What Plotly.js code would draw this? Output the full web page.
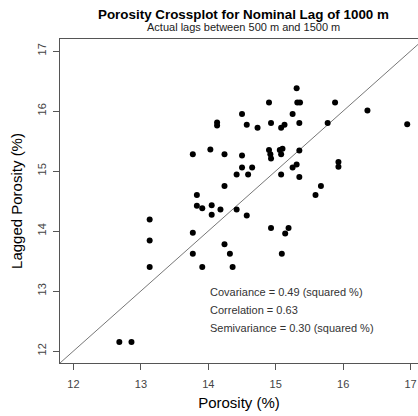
<!DOCTYPE html>
<html>
<head>
<meta charset="utf-8">
<script src="https://cdn.plot.ly/plotly-3.0.1.min.js"></script>
<style>html,body{margin:0;padding:0;background:#fff;}#chart{width:418px;height:416px;}</style>
</head>
<body>
<div id="chart"></div>
<script>
// Porosity (%) at each location (x) and lagged porosity (%) (y)
const porosity = [
  14.13, 14.13, 13.77, 14.03, 14.24, 14.42, 14.24, 15.31, 14.90, 15.32,
  15.36, 15.88, 16.36, 16.95, 14.50, 15.25, 14.57, 14.73, 14.93, 15.08,
  15.13, 15.35, 15.77, 14.50, 14.90, 14.92, 14.93, 15.06, 15.10, 15.08,
  15.35, 14.50, 14.65, 14.59, 15.25, 15.31, 15.08, 15.35, 15.67, 15.59,
  15.93, 15.93, 13.83, 13.83, 13.91, 14.05, 14.05, 14.18, 14.42, 14.57,
  13.13, 13.13, 13.13, 13.77, 13.77, 13.91, 14.24, 14.32, 14.36, 14.93,
  15.14, 15.19, 15.09, 12.68, 12.86
];
const laggedPorosity = [
  15.81, 15.76, 15.28, 15.36, 15.28, 14.94, 14.75, 16.38, 16.14, 16.14,
  16.14, 16.14, 16.01, 15.78, 15.95, 15.95, 15.77, 15.72, 15.80, 15.72,
  15.77, 15.80, 15.80, 15.26, 15.35, 15.28, 15.21, 15.35, 15.37, 15.28,
  15.34, 15.06, 15.06, 14.94, 15.06, 15.11, 14.94, 14.90, 14.75, 14.60,
  15.15, 15.07, 14.60, 14.42, 14.38, 14.43, 14.27, 14.36, 14.36, 14.26,
  14.19, 13.84, 13.40, 13.97, 13.62, 13.40, 13.78, 13.62, 13.40, 14.05,
  13.96, 14.05, 13.62, 12.15, 12.15
];
const diagonal = [11.8, 17.2];
const tickValues = [12, 13, 14, 15, 16, 17];
const statsLabels = [
  "Covariance = 0.49 (squared %)",
  "Correlation = 0.63",
  "Semivariance = 0.30 (squared %)"
];
const statsY = [12.99, 12.68, 12.39];
const statsX = 13.99;

const axisColor = "#555";
const font = "Liberation Sans, Arial, Helvetica, sans-serif";

const traces = [
  {
    x: diagonal, y: diagonal, mode: "lines", type: "scatter",
    line: {color: "#777", width: 1}, hoverinfo: "skip", showlegend: false
  },
  {
    x: porosity, y: laggedPorosity, mode: "markers", type: "scatter",
    marker: {color: "#000", size: 6}, showlegend: false
  }
];

const annotations = [
  {text: "<b>Porosity Crossplot for Nominal Lag of 1000 m</b>", xref: "paper", yref: "paper",
   x: 0.5, y: 1, xshift: 4, yshift: 25, showarrow: false, xanchor: "center", yanchor: "middle",
   font: {family: font, size: 13.4, color: "#000"}},
  {text: "Actual lags between 500 m and 1500 m", xref: "paper", yref: "paper",
   x: 0.5, y: 1, xshift: 4, yshift: 12, showarrow: false, xanchor: "center", yanchor: "middle",
   font: {family: font, size: 11, color: "#222"}}
];
statsLabels.forEach((t, i) => annotations.push({
  text: t, x: statsX, y: statsY[i], xref: "x", yref: "y", showarrow: false,
  xanchor: "left", yanchor: "middle", font: {family: font, size: 11, color: "#333"}
}));

const layout = {
  width: 418, height: 416,
  margin: {l: 60, r: 0, t: 39, b: 53, pad: 0},
  paper_bgcolor: "#fff", plot_bgcolor: "#fff",
  font: {family: font, color: "#333"},
  xaxis: {
    range: [11.8, 17.11], tickvals: tickValues, ticktext: tickValues.map(String),
    showgrid: false, zeroline: false, showline: true, mirror: true,
    linecolor: axisColor, linewidth: 1, ticks: "outside", ticklen: 6, tickcolor: axisColor,
    tickfont: {family: font, size: 11, color: "#444"}, ticklabelstandoff: 5,
    title: {text: "Porosity (%)", font: {family: font, size: 15, color: "#000"}, standoff: 8}
  },
  yaxis: {
    range: [11.8, 17.2], tickvals: tickValues, ticktext: tickValues.map(String),
    showgrid: false, zeroline: false, showline: true, mirror: false,
    linecolor: axisColor, linewidth: 1, ticks: "outside", ticklen: 6, tickcolor: axisColor,
    tickangle: -90, tickfont: {family: font, size: 11, color: "#444"}, ticklabelstandoff: 3,
    title: {text: "Lagged Porosity (%)", font: {family: font, size: 15, color: "#000"}, standoff: 9}
  },
  annotations: annotations,
  showlegend: false
};

Plotly.newPlot("chart", traces, layout, {displayModeBar: false, staticPlot: true});
</script>
</body>
</html>
